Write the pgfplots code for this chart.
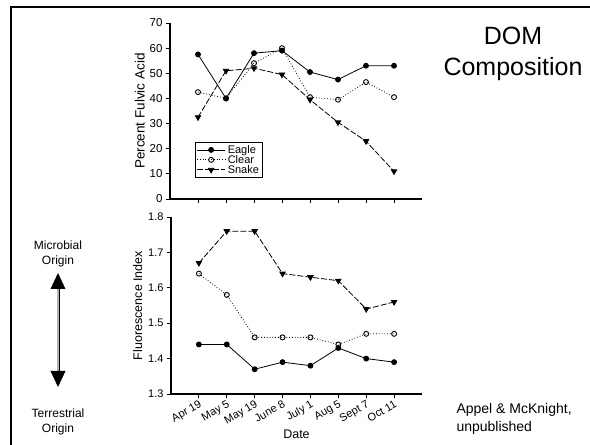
\documentclass[border=0pt]{standalone}
\usepackage{fontspec}
\setmainfont{Liberation Sans}
\usepackage{pgfplots}
\pgfplotsset{compat=1.18}
\usetikzlibrary{arrows.meta}

\pgfplotsset{
  domstyle/.style={
    scale only axis,
    axis x line=bottom, axis y line=left,
    axis line style={-, line width=1.1pt},
    tick align=outside,
    major tick length=4pt,
    every tick/.style={black, line width=0.8pt},
    xmin=-1, xmax=8,
    xtick={0,...,7},
    /pgf/number format/assume math mode=true,
    every axis plot/.append style={line width=0.8pt, black},
    legend image code/.code={%
      \draw[mark repeat=2,mark phase=2,##1] plot coordinates {(0cm,0cm) (0.5cm,0cm) (1.0cm,0cm)};},
  },
  eagle/.style={solid, mark=*, mark size=2.5pt, mark options={solid, fill=black}},
  clear/.style={dotted, mark=o, mark size=2.5pt, mark options={solid, line width=0.9pt}},
  snake/.style={dash pattern=on 6pt off 2pt, mark=triangle*, mark size=3.1pt, mark options={solid, rotate=180, fill=black}},
}

\begin{document}
\begin{tikzpicture}[x=1pt,y=1pt]
\useasboundingbox (0,0) rectangle (590,445);
\fill[white] (0,0) rectangle (590,445);
\draw[line width=2pt] (11,0) -- (11,438) -- (590,438);

% top panel: percent fulvic acid
\begin{axis}[domstyle,
  at={(170pt,246pt)}, anchor=south west,
  width=252pt, height=176pt,
  ymin=0, ymax=70, ytick={0,10,...,70},
  xticklabels={},
  tick label style={font=\fontsize{11.5}{13}\selectfont},
  ylabel={Percent Fulvic Acid},
  ylabel style={font=\fontsize{13.5}{15}\selectfont, yshift=-2pt},
  legend style={draw=black, line width=0.6pt, font=\fontsize{11}{11}\selectfont,
    at={(0.1,0.12)}, anchor=south west, inner sep=1pt, row sep=-3.5pt,
    cells={anchor=west}},
]
\addplot[eagle] coordinates {(0,57.5) (1,40) (2,58) (3,59) (4,50.5) (5,47.5) (6,53) (7,53)};
\addplot[clear] coordinates {(0,42.5) (1,40) (2,54) (3,60) (4,40.5) (5,39.5) (6,46.5) (7,40.5)};
\addplot[snake] coordinates {(0,32.5) (1,51) (2,52) (3,49.5) (4,39.5) (5,30.5) (6,23) (7,11)};
\legend{Eagle, Clear, Snake}
\end{axis}

% bottom panel: fluorescence index
\begin{axis}[domstyle,
  at={(171pt,51pt)}, anchor=south west,
  width=251pt, height=177pt,
  ymin=1.3, ymax=1.8, ytick={1.3,1.4,1.5,1.6,1.7,1.8},
  tick label style={font=\fontsize{11}{12}\selectfont},
  label style={font=\fontsize{12.5}{14}\selectfont},
  yticklabel style={/pgf/number format/fixed, /pgf/number format/precision=1, /pgf/number format/fixed zerofill},
  xticklabels={Apr 19, May 5, May 19, June 8, July 1, Aug 5, Sept 7, Oct 11},
  xticklabel style={rotate=30, anchor=north east, inner sep=1pt},
  xlabel={Date},
  xlabel style={yshift=1pt},
  ylabel={Fluorescence Index},
  ylabel style={yshift=-1pt},
]
\addplot[eagle] coordinates {(0,1.44) (1,1.44) (2,1.37) (3,1.39) (4,1.38) (5,1.43) (6,1.40) (7,1.39)};
\addplot[clear] coordinates {(0,1.64) (1,1.58) (2,1.46) (3,1.46) (4,1.46) (5,1.44) (6,1.47) (7,1.47)};
\addplot[snake] coordinates {(0,1.67) (1,1.76) (2,1.76) (3,1.64) (4,1.63) (5,1.62) (6,1.54) (7,1.56)};
\end{axis}

% annotations
\node[font=\fontsize{25}{31}\selectfont, align=center] at (513,391) {DOM\\Composition};
\node[font=\fontsize{14}{18}\selectfont, align=left, anchor=west] at (453,26) {Appel \& McKnight,\\unpublished};
\node[font=\fontsize{12}{15}\selectfont, align=center] at (58,191) {Microbial\\Origin};
\node[font=\fontsize{12}{15}\selectfont, align=center] at (58,23) {Terrestrial\\Origin};
\draw[black, double=gray!60, double distance=1.6pt, line width=0.7pt] (58,157) -- (58,74);
\fill[black] (58,172) -- (50.5,156) -- (65.5,156) -- cycle;
\fill[black] (58,58) -- (50.5,74) -- (65.5,74) -- cycle;
\end{tikzpicture}
\end{document}
